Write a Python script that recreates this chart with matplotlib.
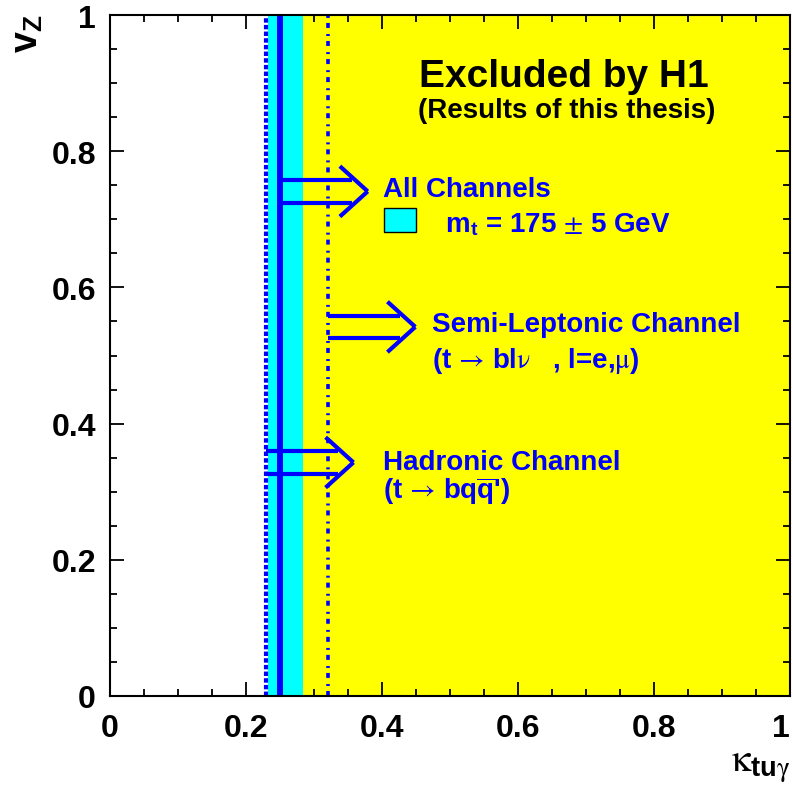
import matplotlib
matplotlib.use("Agg")
import matplotlib.pyplot as plt
from matplotlib.ticker import MultipleLocator
from matplotlib.patches import Rectangle

# ---- data ----
limit_all = 0.25            # combined limit (solid line)
band_all = [0.233, 0.284]   # m_t = 175 +- 5 GeV band
limit_semi = 0.32           # semi-leptonic limit (dash-dot)
limit_had = 0.229           # hadronic limit (dotted)
arrow_y = [0.741, 0.542, 0.343]   # arrow centres: all, semi, hadronic
x_ticks = [0, 0.2, 0.4, 0.6, 0.8, 1]
y_ticks = [0, 0.2, 0.4, 0.6, 0.8, 1]
tick_labels = ["0", "0.2", "0.4", "0.6", "0.8", "1"]

plt.rcParams['font.family'] = ['Liberation Sans', 'DejaVu Sans']
plt.rcParams['mathtext.fontset'] = 'custom'
plt.rcParams['mathtext.rm'] = 'Liberation Sans:bold'
plt.rcParams['mathtext.bf'] = 'Liberation Sans:bold'
plt.rcParams['mathtext.it'] = 'STIXGeneral:weight=normal'
plt.rcParams['mathtext.sf'] = 'STIXGeneral:weight=normal'
plt.rcParams['lines.scale_dashes'] = False

BLUE = '#0000ff'
fig = plt.figure(figsize=(7.93, 8.03), dpi=100)
ax = fig.add_axes([110/793, 1-697/803, 680/793, 681/803])
ax.set_xlim(0, 1)
ax.set_ylim(0, 1)

# excluded region and band
ax.axvspan(limit_all, 1, color='#ffff00', lw=0, zorder=0)
ax.axvspan(band_all[0], band_all[1], color='#00ffff', lw=0, zorder=1)

# limit lines
ax.axvline(limit_had, color=BLUE, lw=3.0, dashes=(3.2, 1.6), zorder=3)
ax.axvline(limit_all, color=BLUE, lw=4.3, zorder=3)
ax.axvline(limit_semi, color=BLUE, lw=2.6, dashes=(3.6, 3.6, 1.4, 4.4), zorder=3)

# double arrows
def double_arrow(x0, yc, length=0.129, gap=0.0165, hl=0.041, hw=0.037):
    tip = x0 + length
    for s in (1, -1):
        ys = yc + s * gap
        xe = tip - hl * (1 - gap / hw)
        ax.plot([x0, xe], [ys, ys], color=BLUE, lw=3, solid_capstyle='butt', zorder=4)
        ax.plot([tip - hl, tip], [yc + s * hw, yc], color=BLUE, lw=3,
                solid_capstyle='butt', zorder=4)

double_arrow(limit_all, arrow_y[0])
double_arrow(limit_semi, arrow_y[1])
double_arrow(limit_had, arrow_y[2])

# texts
tk = dict(fontweight='bold', va='baseline', zorder=5)
ax.text(0.668, 0.896, "Excluded by H1", fontsize=28, ha='center', **tk)
ax.text(0.672, 0.850, "(Results of this thesis)", fontsize=20, ha='center', **tk)
ax.text(0.401, 0.734, "All Channels", fontsize=20, color=BLUE, **tk)
ax.add_patch(Rectangle((0.403, 0.681), 0.047, 0.036, facecolor='#00ffff',
                       edgecolor='black', lw=1, zorder=5))
ax.text(0.493, 0.683, r"m$_{\mathbf{t}}$ = 175 $\mathsf{\pm}$ 5 GeV", fontsize=20,
        color=BLUE, **tk)
ax.text(0.4735, 0.536, "Semi-Leptonic Channel", fontsize=20, color=BLUE, **tk)
ax.text(0.4735, 0.483, r"(t$\,\mathsf{\rightarrow}\,$bl$\nu$   , l=e,$\mu$)", fontsize=20,
        color=BLUE, **tk)
ax.text(0.401, 0.333, "Hadronic Channel", fontsize=20, color=BLUE, **tk)
ax.text(0.401, 0.291, r"(t$\,\mathsf{\rightarrow}\,$bq$\overline{\mathbf{q}}$')", fontsize=20,
        color=BLUE, **tk)

# axes styling
for sp in ax.spines.values():
    sp.set_linewidth(1.5)
    sp.set_zorder(6)
ax.set_xticks(x_ticks)
ax.set_xticklabels(tick_labels)
ax.set_yticks(y_ticks)
ax.set_yticklabels(tick_labels)
ax.xaxis.set_minor_locator(MultipleLocator(0.05))
ax.yaxis.set_minor_locator(MultipleLocator(0.05))
ax.tick_params(which='both', direction='in', top=True, right=True, width=1.3, zorder=6)
ax.tick_params(which='major', length=10, labelsize=23, pad=10)
ax.tick_params(which='minor', length=5)
ax.tick_params(axis='x', which='major', pad=12)
for lab in ax.get_xticklabels() + ax.get_yticklabels():
    lab.set_fontweight('bold')
ax.get_xticklabels()[-1].set_horizontalalignment('right')

# axis titles
fig.text(790/793, 1-772/803, r"$\kappa_{\mathbf{tu}\gamma}$", fontsize=28, ha='right',
         va='baseline')
fig.text(28/793, 1-14/803, r"$\mathbf{v}_{\mathbf{Z}}$", fontsize=27, rotation=90,
         ha='center', va='top')

fig.savefig("out.png", dpi=100)
